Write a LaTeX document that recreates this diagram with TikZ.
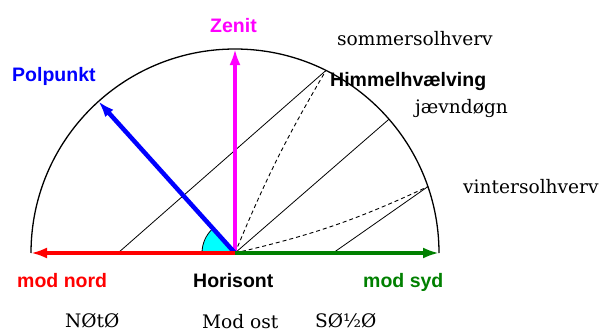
\documentclass[tikz,border=0pt]{standalone}
\usepackage{fontspec}
\setmainfont{DejaVu Serif}
\newfontfamily\labsans{Liberation Sans}
\usetikzlibrary{arrows.meta}
\definecolor{zenitc}{RGB}{255,0,255}
\definecolor{polc}{RGB}{0,0,255}
\definecolor{nordc}{RGB}{255,0,0}
\definecolor{sydc}{RGB}{0,128,0}
\definecolor{wedgec}{RGB}{0,255,255}
\begin{document}
\begin{tikzpicture}[x=1pt,y=-1pt,
  bigarrow/.style={line width=4.5pt,-{Latex[length=16pt,width=11pt]}},
  sunpath/.style={line width=0.8pt,black},
  sundash/.style={line width=0.9pt,black,dash pattern=on 4pt off 3pt},
  sanslab/.style={inner sep=0pt,anchor=base west,font=\labsans\bfseries\fontsize{19.5}{20}\selectfont},
  seriflab/.style={inner sep=0pt,anchor=base west,font=\fontsize{18.6}{20}\selectfont}]
\useasboundingbox (0,0) rectangle (605,332);
% key points
\coordinate (C) at (235,253);
\coordinate (L) at (31,253);
\coordinate (R) at (439,253);
\coordinate (T) at (235,49);
\coordinate (P) at (98.5,101.4);
\coordinate (S) at (326,70.4);
\coordinate (J) at (389,119.2);
\coordinate (V) at (427.9,186.6);
\coordinate (S0) at (118,253);
\coordinate (V0) at (333,253);
% sky dome
\draw[line width=1.3pt] (L) arc[start angle=180,end angle=0,radius=204pt];
% angle wedge
\fill[wedgec] (C) -- ++(-33pt,0pt) arc[start angle=180,end angle=132,radius=33pt] -- cycle;
\draw[line width=0.8pt] (C) ++(-33pt,0pt) arc[start angle=180,end angle=132,radius=33pt];
% sun paths
\draw[sunpath] (S0) -- (S);
\draw[sunpath] (C) -- (J);
\draw[sunpath] (V0) -- (V);
\draw[sundash] (C) to[bend left=4] (S);
\draw[sundash] (C) to[bend right=6] (V);
% arrows
\draw[bigarrow,zenitc] (C) -- (T);
\draw[bigarrow,polc] (C) -- (P);
\draw[bigarrow,nordc] (C) -- (L);
\draw[bigarrow,sydc] (C) -- (R);
% labels
\node[sanslab,zenitc] (zenit) at (210,32) {Zenit};
\node[sanslab,polc] (polpunkt) at (12,81) {Polpunkt};
\node[sanslab] (himmel) at (330,86) {Himmelhvælving};
\node[sanslab,nordc] (nord) at (17,287) {mod nord};
\node[sanslab] (horisont) at (193,287) {Horisont};
\node[sanslab,sydc] (syd) at (363,287) {mod syd};
\node[seriflab] (sommer) at (337,45) {sommersolhverv};
\node[seriflab] (jaevn) at (415,113) {jævndøgn};
\node[seriflab] (vinter) at (463,193) {vintersolhverv};
\node[seriflab] (noto) at (65,327) {NØtØ};
\node[seriflab] (modost) at (202,328) {Mod ost};
\node[seriflab] (sohalv) at (315,327) {SØ½Ø};
\end{tikzpicture}
\end{document}
